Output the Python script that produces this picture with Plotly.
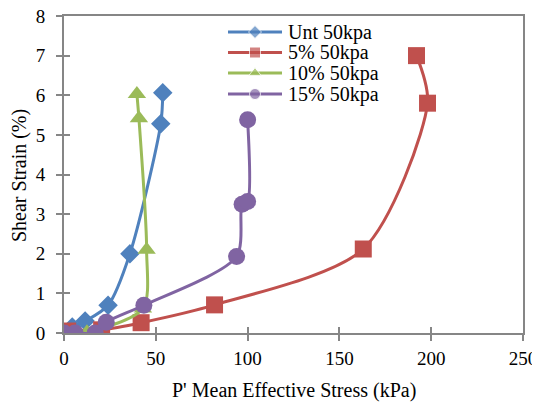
import plotly.graph_objects as go

# Data
unt_x = [0, 4.5, 11.5, 24, 35.9, 52.7, 53.8]
unt_y = [0, 0.15, 0.3, 0.7, 2.0, 5.28, 6.06]

p5_x = [0, 2, 20.5, 42, 82, 163, 198, 192]
p5_y = [0, 0.05, 0.08, 0.26, 0.71, 2.12, 5.8, 7.0]

p10_x = [0, 12.5, 43, 45, 40.8, 39.7]
p10_y = [0, 0.02, 0.62, 2.1, 5.42, 6.03]

p15_x = [0, 6, 17, 23, 43.5, 94, 97, 100, 100]
p15_y = [0, 0.0, 0.0, 0.27, 0.7, 1.93, 3.25, 3.32, 5.38]

names = ["Unt 50kpa", "5% 50kpa", "10% 50kpa", "15% 50kpa"]
x_ticks = [0, 50, 100, 150, 200, 250]
y_ticks = [0, 1, 2, 3, 4, 5, 6, 7, 8]

colors = ["#4F81BD", "#C0504D", "#9BBB59", "#8064A2"]
symbols = ["diamond", "square", "triangle-up", "circle"]
sizes = [15, 17, 16, 17]
legend_sizes = [10, 11, 11, 11]

xs = [unt_x, p5_x, p10_x, p15_x]
ys = [unt_y, p5_y, p10_y, p15_y]

FONT = "Liberation Serif"
AXC = "#868686"

# The page body has an 8px margin, so the figure is drawn 8px smaller
OFF = 8
W, H = 540 - OFF, 403 - OFF
# plot-area frame in reference pixels
L, R, T, B = 64, 523, 16, 333
leg_rows = [32, 52.5, 73, 94]
leg_line = [228, 255, 282]
leg_text_x = 286

fig = go.Figure()
for x, y, n, c, s, sz in zip(xs, ys, names, colors, symbols, sizes):
    fig.add_trace(go.Scatter(
        x=x, y=y, name=n, mode="lines+markers", showlegend=False,
        line=dict(color=c, width=3, shape="spline", smoothing=0.8),
        marker=dict(symbol=s, size=sz, color=c),
    ))

# dummy trace for inside tick marks (cross ticks)
fig.add_trace(go.Scatter(x=[], y=[], xaxis="x2", yaxis="y2", showlegend=False, hoverinfo="skip"))

# legend keys
for n, c, s, lsz, ry in zip(names, colors, symbols, legend_sizes, leg_rows):
    fig.add_trace(go.Scatter(
        x=leg_line, y=[ry] * 3, xaxis="x3", yaxis="y3", mode="lines+markers",
        showlegend=False, hoverinfo="skip",
        line=dict(color=c, width=3),
        marker=dict(symbol=s, size=[0, lsz, 0], color=c),
    ))
    fig.add_annotation(x=leg_text_x, y=ry, xref="x3", yref="y3", text=n,
                       showarrow=False, xanchor="left", yanchor="middle",
                       font=dict(family=FONT, size=20, color="black"))

# axis titles
fig.add_annotation(x=0.501, y=-0.18, xref="paper", yref="paper",
                   text="P' Mean Effective Stress (kPa)", showarrow=False,
                   xanchor="center", yanchor="middle",
                   font=dict(family=FONT, size=20, color="black"))
fig.add_annotation(x=-0.098, y=0.495, xref="paper", yref="paper",
                   text="Shear Strain (%)", showarrow=False, textangle=-90,
                   xanchor="center", yanchor="middle",
                   font=dict(family=FONT, size=20, color="black"))

fig.update_layout(
    width=W, height=H,
    margin=dict(l=L - OFF, r=W - (R - OFF), t=T - OFF, b=H - (B - OFF), autoexpand=False),
    paper_bgcolor="white", plot_bgcolor="white",
    font=dict(family=FONT, size=19, color="black"),
    showlegend=False,
    xaxis=dict(range=[0, 250], tickvals=x_ticks, showgrid=False, zeroline=False,
               showline=True, linecolor=AXC, linewidth=2, mirror=True,
               ticks="outside", ticklen=6, tickwidth=2, tickcolor=AXC,
               tickfont=dict(size=19, family=FONT), automargin=False,
               ticklabelstandoff=1, ticklabeloverflow="allow"),
    yaxis=dict(range=[0, 8], tickvals=y_ticks, showgrid=False, zeroline=False,
               showline=True, linecolor=AXC, linewidth=2, mirror=True,
               ticks="outside", ticklen=6, tickwidth=2, tickcolor=AXC,
               tickfont=dict(size=19, family=FONT), automargin=False,
               ticklabelstandoff=7, ticklabeloverflow="allow"),
    xaxis2=dict(range=[0, 250], tickvals=x_ticks, overlaying="x", anchor="y2", side="bottom",
                showgrid=False, zeroline=False, showline=False, showticklabels=False,
                ticks="inside", ticklen=6, tickwidth=2, tickcolor=AXC),
    yaxis2=dict(range=[0, 8], tickvals=y_ticks, overlaying="y", anchor="x2", side="left",
                showgrid=False, zeroline=False, showline=False, showticklabels=False,
                ticks="inside", ticklen=6, tickwidth=2, tickcolor=AXC),
    xaxis3=dict(range=[L, R], overlaying="x", anchor="y3", visible=False, fixedrange=True),
    yaxis3=dict(range=[B, T], overlaying="y", anchor="x3", visible=False, fixedrange=True),
)

fig.write_html("out.html")
